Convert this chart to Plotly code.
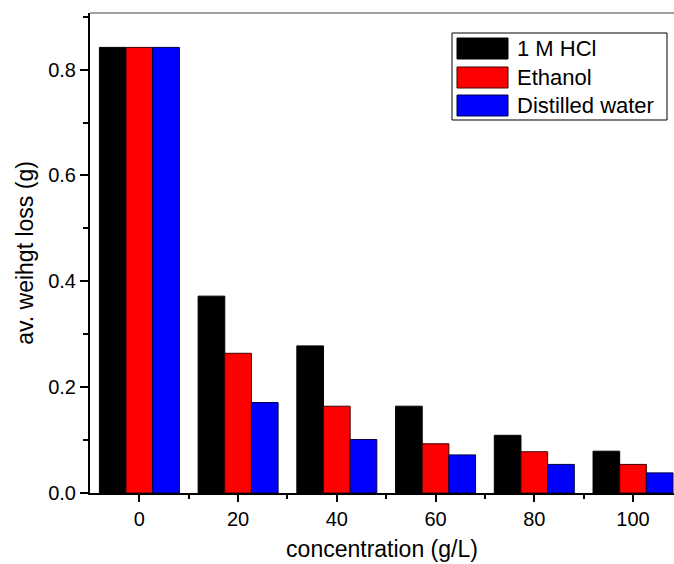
import plotly.graph_objects as go

concentration = [0, 20, 40, 60, 80, 100]
hcl = [0.842, 0.372, 0.278, 0.164, 0.109, 0.079]
ethanol = [0.842, 0.264, 0.164, 0.093, 0.078, 0.054]
water = [0.842, 0.171, 0.101, 0.072, 0.054, 0.038]

series = [
    ("1 M HCl", hcl, "#000000", "#000000"),
    ("Ethanol", ethanol, "#ff0000", "#400000"),
    ("Distilled water", water, "#0000ff", "#000040"),
]

W, H = 674, 564
L, R, T, B = 90, 0, 13, 71
PW, PH = W - L - R, H - T - B


def px(x):
    return (x - L) / PW


def py(y):
    return (H - B - y) / PH


fig = go.Figure()
for name, vals, col, lc in series:
    fig.add_trace(go.Bar(x=concentration, y=vals, name=name, showlegend=False,
                         marker=dict(color=col, line=dict(color=lc, width=1))))

font = "Liberation Sans, Arial, sans-serif"

shapes = [dict(type="line", xref="paper", yref="paper", x0=0, x1=1, y0=1, y1=1,
               line=dict(color="#808080", width=1.5)),
          dict(type="rect", xref="paper", yref="paper", x0=px(452), x1=px(667),
               y0=py(33), y1=py(120), line=dict(color="black", width=1),
               fillcolor="white")]
annotations = []
row_tops = [38, 67, 95]
for (name, vals, col, lc), top in zip(series, row_tops):
    shapes.append(dict(type="rect", xref="paper", yref="paper",
                       x0=px(457), x1=px(508), y0=py(top), y1=py(top + 21),
                       line=dict(color=lc, width=1), fillcolor=col))
    annotations.append(dict(xref="paper", yref="paper", x=px(515), y=py(top + 10.5),
                            xanchor="left", yanchor="middle", showarrow=False,
                            text=name, font=dict(size=22, family=font, color="black")))

fig.update_layout(
    width=W, height=H,
    margin=dict(l=L, r=R, t=T, b=B),
    paper_bgcolor="white", plot_bgcolor="white",
    barmode="group", bargap=0.19, bargroupgap=0,
    font=dict(family=font, color="black"),
    showlegend=False,
    xaxis=dict(range=[-10, 108.3], tickvals=concentration,
               ticks="outside", ticklen=7, tickwidth=2, tickcolor="black",
               showline=True, linecolor="black", linewidth=2,
               showgrid=False, zeroline=False,
               tickfont=dict(size=20),
               minor=dict(tickvals=[10, 30, 50, 70, 90], ticks="outside",
                          ticklen=4, tickwidth=2, tickcolor="black"),
               title=dict(text="concentration (g/L)", font=dict(size=23), standoff=12)),
    yaxis=dict(range=[0, 0.907], tickvals=[0, 0.2, 0.4, 0.6, 0.8],
               ticktext=["0.0", "0.2", "0.4", "0.6", "0.8"],
               ticks="outside", ticklen=8, tickwidth=2, tickcolor="black",
               showline=True, linecolor="black", linewidth=2,
               showgrid=False, zeroline=False,
               tickfont=dict(size=20),
               minor=dict(tickvals=[0.1, 0.3, 0.5, 0.7, 0.9], ticks="outside",
                          ticklen=5, tickwidth=2, tickcolor="black"),
               title=dict(text="av. weihgt loss (g)", font=dict(size=23), standoff=8)),
    shapes=shapes,
    annotations=annotations,
)

fig.write_html("out.html", config={"displayModeBar": False},
               post_script="document.body.style.margin='0';document.body.style.overflow='hidden';")
